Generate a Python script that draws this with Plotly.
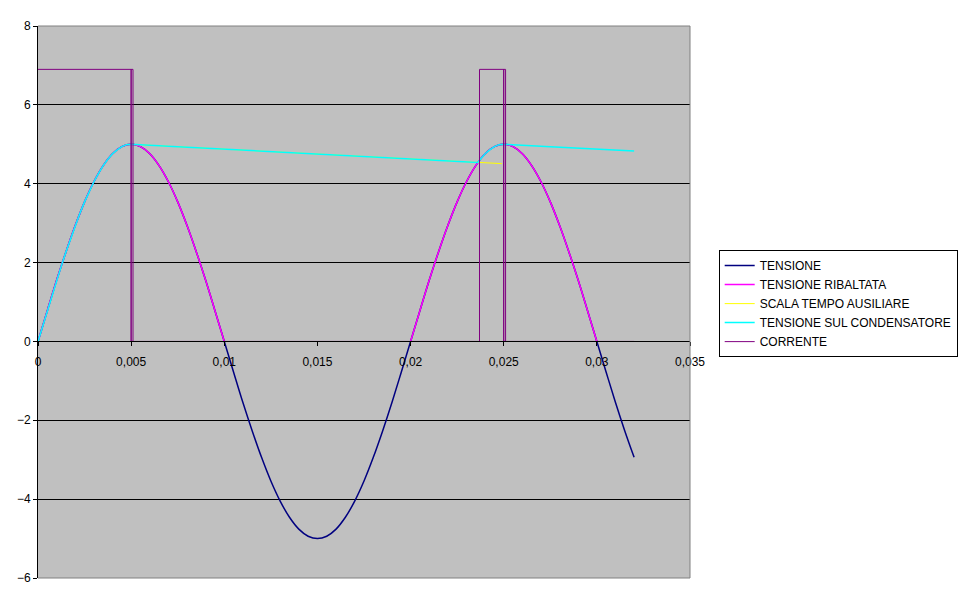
import plotly.graph_objects as go

# time axis (s), sampled every 0.5 ms
t = [
    0.0, 0.0005, 0.001, 0.0015, 0.002, 0.0025, 0.003, 0.0035, 0.004, 0.0045,
    0.005, 0.0055, 0.006, 0.0065, 0.007, 0.0075, 0.008, 0.0085, 0.009, 0.0095,
    0.01, 0.0105, 0.011, 0.0115, 0.012, 0.0125, 0.013, 0.0135, 0.014, 0.0145,
    0.015, 0.0155, 0.016, 0.0165, 0.017, 0.0175, 0.018, 0.0185, 0.019, 0.0195,
    0.02, 0.0205, 0.021, 0.0215, 0.022, 0.0225, 0.023, 0.0235, 0.024, 0.0245,
    0.025, 0.0255, 0.026, 0.0265, 0.027, 0.0275, 0.028, 0.0285, 0.029, 0.0295,
    0.03, 0.0305, 0.031, 0.0315, 0.032,
]

tensione = [
    0.0, 0.78, 1.55, 2.27, 2.94, 3.54, 4.05, 4.46, 4.76, 4.94,
    5.0, 4.94, 4.76, 4.46, 4.05, 3.54, 2.94, 2.27, 1.55, 0.78,
    0.0, -0.78, -1.55, -2.27, -2.94, -3.54, -4.05, -4.46, -4.76, -4.94,
    -5.0, -4.94, -4.76, -4.46, -4.05, -3.54, -2.94, -2.27, -1.55, -0.78,
    0.0, 0.78, 1.55, 2.27, 2.94, 3.54, 4.05, 4.46, 4.76, 4.94,
    5.0, 4.94, 4.76, 4.46, 4.05, 3.54, 2.94, 2.27, 1.55, 0.78,
    0.0, -0.78, -1.55, -2.27, -2.94,
]

tensione_ribaltata = [
    0.0, 0.78, 1.55, 2.27, 2.94, 3.54, 4.05, 4.46, 4.76, 4.94,
    5.0, 4.94, 4.76, 4.46, 4.05, 3.54, 2.94, 2.27, 1.55, 0.78,
    0.0, None, None, None, None, None, None, None, None, None,
    None, None, None, None, None, None, None, None, None, None,
    0.0, 0.78, 1.55, 2.27, 2.94, 3.54, 4.05, 4.46, 4.76, 4.94,
    5.0, 4.94, 4.76, 4.46, 4.05, 3.54, 2.94, 2.27, 1.55, 0.78,
    0.0, None, None, None, None,
]

# auxiliary time scale (discharge curve)
t_aux = [0.005, 0.0075, 0.01, 0.0125, 0.015, 0.0175, 0.02, 0.0225, 0.0236, 0.0249]
scala_aux = [5.0, 4.94, 4.88, 4.81, 4.75, 4.69, 4.63, 4.57, 4.54, 4.51]

# capacitor voltage
t_cond = [
    0.0, 0.00025, 0.0005, 0.00075, 0.001, 0.00125, 0.0015, 0.00175, 0.002, 0.00225,
    0.0025, 0.00275, 0.003, 0.00325, 0.0035, 0.00375, 0.004, 0.00425, 0.0045, 0.00475,
    0.005, 0.0075, 0.01, 0.0125, 0.015, 0.0175, 0.02, 0.0225, 0.0236,
    0.02375, 0.024, 0.02425, 0.0245, 0.02475, 0.025, 0.0275, 0.03, 0.032,
]
tensione_cond = [
    0.0, 0.39, 0.78, 1.17, 1.55, 1.91, 2.27, 2.61, 2.94, 3.25,
    3.54, 3.80, 4.05, 4.26, 4.46, 4.62, 4.76, 4.86, 4.94, 4.99,
    5.0, 4.94, 4.88, 4.81, 4.75, 4.69, 4.63, 4.57, 4.54,
    4.62, 4.76, 4.86, 4.94, 4.99, 5.0, 4.94, 4.88, 4.83,
]

# diode current pulses
t_corr = [0.0, 0.0051, 0.0051, 0.005, 0.005, 0.005, 0.0237, 0.0237, 0.0251, 0.0251, 0.025, 0.025, 0.025, 0.032]
corrente = [6.9, 6.9, 0.0, 0.0, 6.9, 0.0, 0.0, 6.9, 6.9, 0.0, 0.0, 6.9, 0.0, 0.0]

x_ticks = [0, 0.005, 0.01, 0.015, 0.02, 0.025, 0.03, 0.035]
x_labels = ['0', '0,005', '0,01', '0,015', '0,02', '0,025', '0,03', '0,035']
y_ticks = [-6, -4, -2, 0, 2, 4, 6, 8]

font_family = 'Arial, Liberation Sans, sans-serif'

fig = go.Figure()
fig.add_trace(go.Scatter(x=t, y=tensione, mode='lines', name='TENSIONE',
                         line=dict(color='#000080', width=1.5, shape='spline')))
fig.add_trace(go.Scatter(x=t, y=tensione_ribaltata, mode='lines', name='TENSIONE RIBALTATA',
                         line=dict(color='#FF00FF', width=1.5, shape='spline')))
fig.add_trace(go.Scatter(x=t_aux, y=scala_aux, mode='lines', name='SCALA TEMPO AUSILIARE',
                         line=dict(color='#FFFF00', width=1)))
fig.add_trace(go.Scatter(x=t_cond, y=tensione_cond, mode='lines', name='TENSIONE SUL CONDENSATORE',
                         line=dict(color='#00FFFF', width=1.5)))
fig.add_trace(go.Scatter(x=t_corr, y=corrente, mode='lines', name='CORRENTE',
                         line=dict(color='#800080', width=1)))

# the page body adds an 8px offset, so the figure is 8px smaller than the window
fig.update_layout(
    width=962,
    height=596,
    margin=dict(l=30, r=272, t=18, b=26, pad=0),
    paper_bgcolor='white',
    plot_bgcolor='#C0C0C0',
    font=dict(family=font_family, size=12, color='black'),
    showlegend=True,
    legend=dict(
        x=1.044, y=0.594, xanchor='left', yanchor='top',
        bgcolor='white', bordercolor='black', borderwidth=1,
        font=dict(family=font_family, size=12, color='black'),
    ),
    # plot area border (top, right, bottom)
    shapes=[dict(type='path', xref='paper', yref='paper',
                 path='M 0,1 L 1,1 L 1,0 L 0,0',
                 line=dict(color='#808080', width=1))],
)

fig.update_xaxes(
    range=[0, 0.035],
    tickvals=x_ticks, ticktext=x_labels,
    anchor='free', position=6 / 14,
    showline=True, linecolor='black', linewidth=1,
    ticks='outside', ticklen=4, tickcolor='black',
    ticklabelstandoff=5,
    showgrid=False, zeroline=False, automargin=False,
    tickfont=dict(family=font_family, size=12, color='black'),
)
fig.update_yaxes(
    range=[-6, 8],
    tickvals=y_ticks,
    showline=True, linecolor='black', linewidth=1,
    ticks='outside', ticklen=4, tickcolor='black',
    showgrid=True, gridcolor='black', gridwidth=1,
    zeroline=False, automargin=False,
    tickfont=dict(family=font_family, size=12, color='black'),
)

fig.write_html("out.html")
